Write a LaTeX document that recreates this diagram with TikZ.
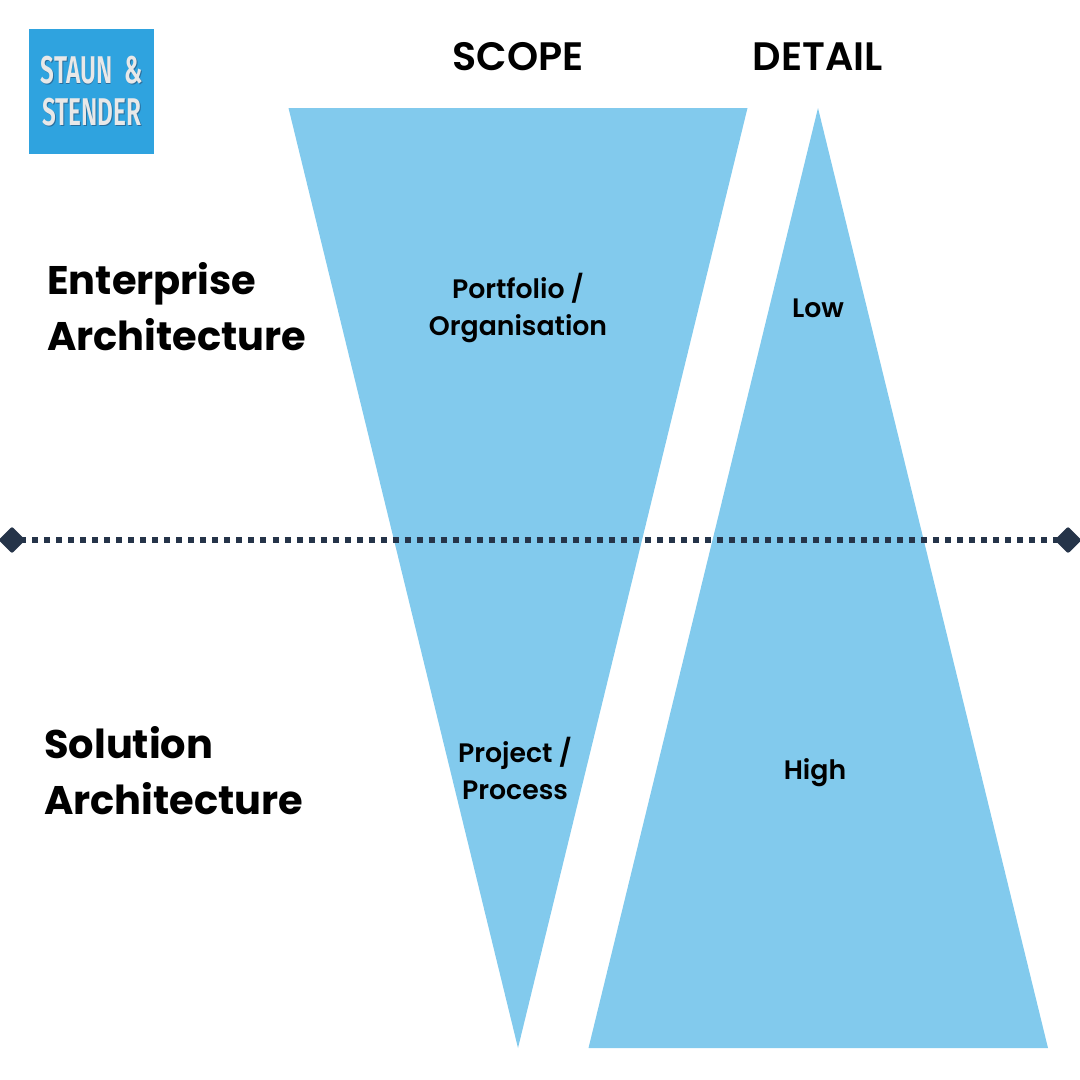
\documentclass[tikz,border=0pt]{standalone}
\usepackage{fontspec}
\setmainfont{Poppins}
\newfontfamily\popsemi{Poppins SemiBold}
\newfontfamily\popbold{Poppins Bold}
\newfontfamily\logofont[FakeStretch=0.63]{Fira Sans SemiBold}
\usetikzlibrary{shapes,arrows,positioning,calc}
\definecolor{wedgeblue}{HTML}{82CAED}
\definecolor{logoblue}{HTML}{2FA3DF}
\definecolor{logotext}{HTML}{E8E8E8}
\definecolor{logoshade}{HTML}{2A6F9E}
\definecolor{linedark}{HTML}{253449}

\begin{document}
\begin{tikzpicture}[x=0.025cm,y=-0.025cm,
                    wedge/.style={fill=wedgeblue},
                    head/.style={font=\popsemi\fontsize{28.2}{33}\selectfont,anchor=center},
                    layer/.style={font=\popbold\fontsize{28.4}{39.8}\selectfont,align=left,anchor=west,inner sep=0pt},
                    tag/.style={font=\popsemi\fontsize{19}{26.5}\selectfont,align=center,inner sep=0pt},
                    endmark/.style={diamond,fill=linedark,inner sep=0pt,minimum size=0.68cm,rounded corners=1.5pt},
                    logotxt/.style={font=\logofont\fontsize{27.5}{30}\selectfont,inner sep=0pt}]
  \useasboundingbox (0,0) rectangle (1080,1080);

  % wedges
  \fill[wedge] (288.5,108) -- (747.5,108) -- (518,1048) -- cycle;
  \fill[wedge] (818,108) -- (1048,1048) -- (588.5,1048) -- cycle;

  % logo
  \node[fill=logoblue,minimum size=3.12cm,inner sep=0pt,anchor=north west](logo) at (29,29){};
  \node[logotxt,text=logoshade,xshift=0.6pt,yshift=-0.8pt] at (92,70){STAUN \,\&};
  \node[logotxt,text=logoshade,xshift=0.6pt,yshift=-0.8pt] at (92,112){STENDER};
  \node[logotxt,text=logotext](staun) at (92,70){STAUN \,\&};
  \node[logotxt,text=logotext](stender) at (92,112){STENDER};

  % headings
  \node[head](scope) at (518,57){SCOPE};
  \node[head](detail) at (818,57){DETAIL};

  \node[layer](enterprise) at (47,307){Enterprise\\Architecture};
  \node[layer](solution) at (44,771){Solution\\Architecture};

  \node[tag](portfolio) at (518,308){Portfolio /\\Organisation};
  \node[tag](project) at (515,768.5){Project /\\Process};
  \node[tag](low) at (818,308){Low};
  \node[tag](high) at (815,773){High};

  % divider
  \node[endmark](left_end) at (12,540){};
  \node[endmark](right_end) at (1068,540){};
  \draw[linedark,line width=4.8pt,dash pattern=on 4.27pt off 4.27pt,dash phase=2.63pt] (left_end.center) -- (right_end.center);
\end{tikzpicture}
\end{document}
